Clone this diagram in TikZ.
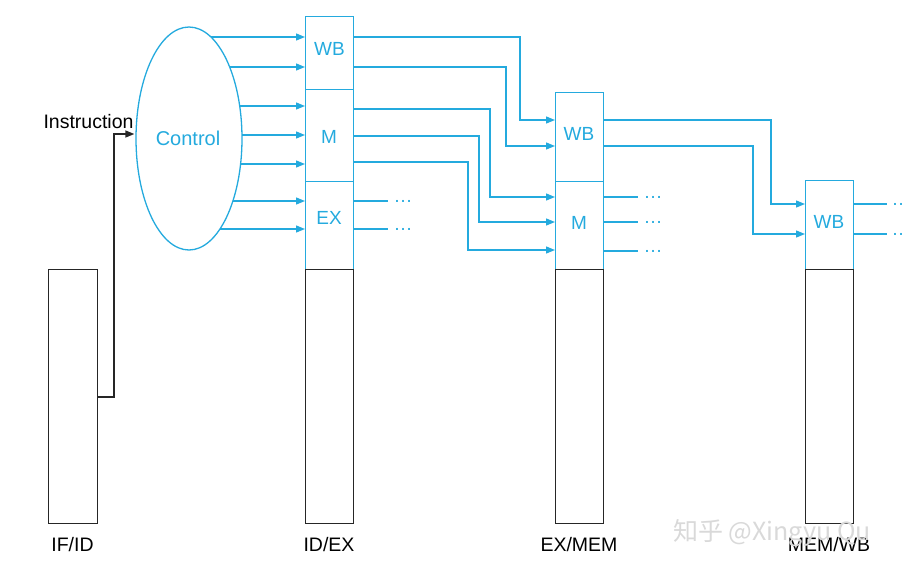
\documentclass[tikz,border=0pt]{standalone}
\usepackage{fontspec}
\setmainfont{Liberation Sans}
\newfontfamily\cjk{Noto Sans CJK SC}
\usetikzlibrary{arrows.meta,shapes.geometric,backgrounds}
\definecolor{cblue}{RGB}{36,170,222}
\begin{document}
\begin{tikzpicture}[x=1pt,y=-1pt,
  wire/.style={cblue, line width=1.3pt},
  arr/.style={wire, -{Triangle[length=9pt,width=7pt]}},
  karr/.style={draw=black!85, line width=1.4pt, -{Triangle[length=9pt,width=7pt]}},
  bbox/.style={draw=cblue, line width=1.3pt, minimum width=48pt, inner sep=0, anchor=north west},
  kbox/.style={draw=black!85, line width=1.4pt, minimum width=48pt, inner sep=0, anchor=north west},
  btxt/.style={text=cblue, font=\fontsize{19}{19}\selectfont, inner sep=0},
  ktxt/.style={text=black, font=\fontsize{19.5}{19.5}\selectfont, inner sep=0},
  dotsn/.style={text=cblue, font=\fontsize{19}{19}\selectfont, inner sep=0}
]
\useasboundingbox (0,0) rectangle (904,571);

% IF/ID
\node[kbox, minimum width=49pt, minimum height=254pt] (ifk) at (48,269) {};

% ID/EX
\node[bbox, minimum height=73pt] (idwb) at (305,16) {};
\node[bbox, minimum height=92pt] (idm) at (305,89) {};
\node[bbox, minimum height=88pt] (idex) at (305,181) {};
\node[kbox, minimum height=254pt] (idk) at (305,269) {};

% EX/MEM
\node[bbox, minimum height=89pt] (exwb) at (555,92) {};
\node[bbox, minimum height=88pt] (exm) at (555,181) {};
\node[kbox, minimum height=254pt] (exk) at (555,269) {};

% MEM/WB
\node[bbox, minimum height=89pt] (mwb) at (805,180) {};
\node[kbox, minimum height=254pt] (mk) at (805,269) {};

% texts in boxes
\node[btxt] (idwbt) at (329.5,48.5) {WB};
\node[btxt] (idmt) at (329,136.5) {M};
\node[btxt] (idext) at (329,218) {EX};
\node[btxt] (exwbt) at (579,133.5) {WB};
\node[btxt] (exmt) at (579,223) {M};
\node[btxt] (mwbt) at (829,222) {WB};

% labels
\node[ktxt] (l1) at (72.5,545) {IF/ID};
\node[ktxt] (l2) at (329,545) {ID/EX};
\node[ktxt] (l3) at (579,545) {EX/MEM};
\node[ktxt] (l4) at (829,545) {MEM/WB};
\node[ktxt] (instr) at (88.5,121.5) {Instruction};

% control
\node[draw=cblue, fill=white, ellipse, line width=1.3pt, minimum width=106pt, minimum height=223pt, inner sep=0] (ctrl) at (189,138.5) {};
\node[btxt, font=\fontsize{20}{20}\selectfont] (ctrlt) at (188,138) {Control};

\begin{scope}[on background layer]
\foreach \yy/\bx in {37/idwb,67/idwb,106/idm,135/idm,164/idm,201/idex,229/idex}
  \draw[arr] (ctrl.center |- 0,\yy) -- (\bx.west |- 0,\yy);
\end{scope}

% instruction wire
\coordinate (ia) at (114,397);
\coordinate (ib) at (114,134);
\draw[karr] (ifk.east |- ia) -- (ia) -- (ib) -- ([xshift=-1pt]ctrl.west |- ib);

% ID/EX -> EX/MEM
\draw[arr] (idwb.east |- 0,37) -| (520,120) -- (exwb.west |- 0,120);
\draw[arr] (idwb.east |- 0,67) -| (506,146) -- (exwb.west |- 0,146);
\draw[arr] (idm.east |- 0,109) -| (490,197) -- (exm.west |- 0,197);
\draw[arr] (idm.east |- 0,136) -| (479,222) -- (exm.west |- 0,222);
\draw[arr] (idm.east |- 0,162) -| (468,250) -- (exm.west |- 0,250);

% EX/MEM -> MEM/WB
\draw[arr] (exwb.east |- 0,120) -| (771,204) -- (mwb.west |- 0,204);
\draw[arr] (exwb.east |- 0,146) -| (753,234) -- (mwb.west |- 0,234);

% dots outputs
\node[dotsn] (d1) at (403,201) {…};
\node[dotsn] (d2) at (403,229) {…};
\node[dotsn] (d3) at (653,197) {…};
\node[dotsn] (d4) at (653,222) {…};
\node[dotsn] (d5) at (653,251) {…};
\node[dotsn] (d6) at (901,204) {…};
\node[dotsn] (d7) at (901,234) {…};
\draw[wire] (idex.east |- d1) -- (388,201);
\draw[wire] (idex.east |- d2) -- (388,229);
\draw[wire] (exm.east |- d3) -- (638,197);
\draw[wire] (exm.east |- d4) -- (638,222);
\draw[wire] (exm.east |- d5) -- (638,251);
\draw[wire] (mwb.east |- d6) -- (887,204);
\draw[wire] (mwb.east |- d7) -- (887,234);

% watermark
\node[text=gray!30, font=\cjk\fontsize{25}{25}\selectfont, inner sep=0] (wm) at (772,533) {知乎 @Xingyu Qu};
\end{tikzpicture}
\end{document}
